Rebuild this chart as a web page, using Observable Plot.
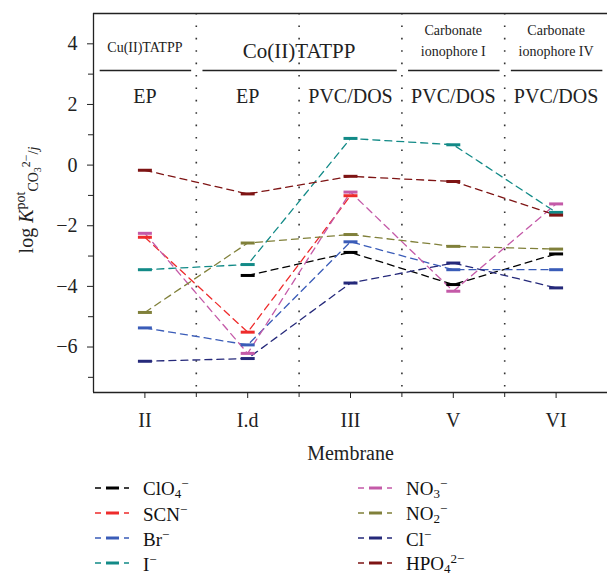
<!DOCTYPE html>
<html><head><meta charset="utf-8">
<script src="https://cdn.jsdelivr.net/npm/d3@7"></script>
<script src="https://cdn.jsdelivr.net/npm/@observablehq/plot@0.6"></script>
<style>
body{margin:0;background:#fff;font-family:"Liberation Serif",serif;color:#111;}
#chart svg{display:block;}
#legend{position:relative;height:105px;width:610px;}
.item{position:absolute;display:flex;align-items:center;font-size:19px;line-height:1;}
.item svg{margin-right:14px;}
.item sub{font-size:13px;vertical-align:-3px;}
.item sup{font-size:13px;vertical-align:7px;}
</style></head><body><div id="chart"></div><div id="legend"></div>
<script>
const membranes = ["II", "I.d", "III", "V", "VI"];
const subLabels = ["EP", "EP", "PVC/DOS", "PVC/DOS", "PVC/DOS"];
const groupLabels = ["Cu(II)TATPP", "Co(II)TATPP", "Carbonate\nionophore I", "Carbonate\nionophore IV"];
const groupSpans = [["II"], ["I.d", "III"], ["V"], ["VI"]];
const ions = ["ClO4", "SCN", "Br", "I", "NO3", "NO2", "Cl", "HPO4"];
const ionLabels = ["ClO<sub>4</sub><sup>−</sup>", "SCN<sup>−</sup>", "Br<sup>−</sup>", "I<sup>−</sup>",
  "NO<sub>3</sub><sup>−</sup>", "NO<sub>2</sub><sup>−</sup>", "Cl<sup>−</sup>", "HPO<sub>4</sub><sup>2−</sup>"];
const colors = ["#000000", "#ee2b2b", "#3a5cb8", "#128a87", "#c45aa8", "#80803a", "#25297a", "#7e1414"];

const clo4   = [null, -3.64, -2.88, -3.94, -2.93];
const scn    = [-2.38, -5.51, -1.01, null, null];
const br     = [-5.37, -5.93, -2.53, -3.45, -3.45];
const iodide = [-3.45, -3.28, 0.88, 0.67, -1.56];
const no3    = [-2.25, -6.21, -0.89, -4.16, -1.28];
const no2    = [-4.86, -2.57, -2.29, -2.68, -2.77];
const cl     = [-6.47, -6.38, -3.89, -3.23, -4.05];
const hpo4   = [-0.17, -0.95, -0.37, -0.54, -1.65];

const yMajor = [-6, -4, -2, 0, 2, 4];
const yMinor = [-7, -5, -3, -1, 1, 3];

const series = [clo4, scn, br, iodide, no3, no2, cl, hpo4];
const rows = [];
ions.forEach((ion, k) => series[k].forEach((v, i) => { if (v != null) rows.push({ion, i, value: v}); }));

const groups = groupLabels.map((label, g) => {
  const a = membranes.indexOf(groupSpans[g][0]);
  const b = membranes.indexOf(groupSpans[g][groupSpans[g].length - 1]);
  return {label, a, b, mid: (a + b) / 2, lines: label.split("\n").length};
});
const idx = membranes.map((m, i) => i);
const fmt = d => d < 0 ? "\u2212" + Math.abs(d) : String(d);
const ink = "#222";

const svg = Plot.plot({
  width: 610, height: 470,
  marginLeft: 93, marginRight: 3, marginTop: 13, marginBottom: 78,
  style: {fontFamily: "'Liberation Serif', serif", fontSize: "19px", color: ink, background: "#fff"},
  x: {type: "linear", domain: [-0.5, membranes.length - 0.5]},
  y: {domain: [-7.5, 5]},
  color: {domain: ions, range: colors},
  marks: [
    Plot.ruleX(d3.range(0.5, membranes.length - 0.5, 1), {stroke: "#333", strokeWidth: 1.6, strokeDasharray: "1.6,10.8"}),
    Plot.ruleX([-0.5], {stroke: ink, strokeWidth: 1.3}),
    Plot.ruleY([-7.5, 5], {stroke: ink, strokeWidth: 1.3}),
    Plot.axisX({ticks: idx, tickFormat: i => membranes[i], tickSize: 6, tickPadding: 14, label: null, fontSize: 20}),
    Plot.axisX({ticks: d3.range(0.5, membranes.length - 0.5, 1), tickFormat: () => "", tickSize: 5, label: null}),
    Plot.axisY({ticks: yMajor, tickFormat: fmt, tickSize: 6, tickPadding: 10, label: null, fontSize: 20}),
    Plot.axisY({ticks: yMinor, tickFormat: () => "", tickSize: 5, label: null}),
    Plot.text(["Membrane"], {frameAnchor: "bottom", dy: 67, fontSize: 20}),
    // header
    Plot.text(groups.filter(g => g.label.startsWith("Cu")), {x: "mid", text: "label", frameAnchor: "top", dy: 29, fontSize: 14}),
    Plot.text(groups.filter(g => g.label.startsWith("Co")), {x: "mid", text: "label", frameAnchor: "top", dy: 30, fontSize: 21}),
    Plot.text(groups.filter(g => g.lines > 1), {x: "mid", text: "label", frameAnchor: "top", dy: 7, fontSize: 14, lineHeight: 1.5}),
    Plot.link(groups, {x1: d => d.a - 0.44, x2: d => d.b + 0.45, y1: 3.12, y2: 3.12, stroke: ink, strokeWidth: 1.3}),
    Plot.text(idx, {x: d => d, text: d => subLabels[d], frameAnchor: "top", dy: 75, fontSize: 20}),
    // data
    Plot.line(rows, {x: "i", y: "value", z: "ion", stroke: "ion", strokeWidth: 1.3, strokeDasharray: "7,5"}),
    Plot.link(rows, {x1: d => d.i - 0.068, x2: d => d.i + 0.068, y1: "value", y2: "value", stroke: "ion", strokeWidth: 3})
  ]
});
document.getElementById("chart").appendChild(svg);

// y-axis label with sub/superscripts
const lab = d3.select(svg).append("text")
  .attr("transform", "translate(33,200) rotate(-90)")
  .attr("text-anchor", "middle")
  .attr("fill", ink)
  .style("font-family", "'Liberation Serif', serif")
  .style("font-size", "20px");
lab.append("tspan").text("log ");
lab.append("tspan").attr("font-style", "italic").text("K");
lab.append("tspan").attr("dy", -8).style("font-size", "14px").text("pot");
lab.append("tspan").attr("dy", 13).style("font-size", "14px").text("CO");
lab.append("tspan").attr("dy", 3).style("font-size", "10px").text("3");
lab.append("tspan").attr("dy", -11).style("font-size", "12px").text("2\u2212");
lab.append("tspan").attr("dy", 8).style("font-size", "14px").text("/");
lab.append("tspan").style("font-size", "14px").attr("font-style", "italic").text("j");

// legend
const legend = document.getElementById("legend");
const rowY = [18, 43, 68, 93];
ions.forEach((ion, k) => {
  const col = Math.floor(k / 4), r = k % 4;
  const div = document.createElement("div");
  div.className = "item";
  div.style.left = (col ? 358 : 95) + "px";
  div.style.top = (rowY[r] - 11) + "px";
  div.style.height = "22px";
  const c = colors[k];
  div.innerHTML = `<svg width="34" height="10"><line x1="0" x2="34" y1="5" y2="5" stroke="${c}" stroke-width="1.3" stroke-dasharray="6,5,13,5,6"/><line x1="11" x2="24" y1="5" y2="5" stroke="${c}" stroke-width="3"/></svg><span>${ionLabels[k]}</span>`;
  legend.appendChild(div);
});
</script>
</body></html>
